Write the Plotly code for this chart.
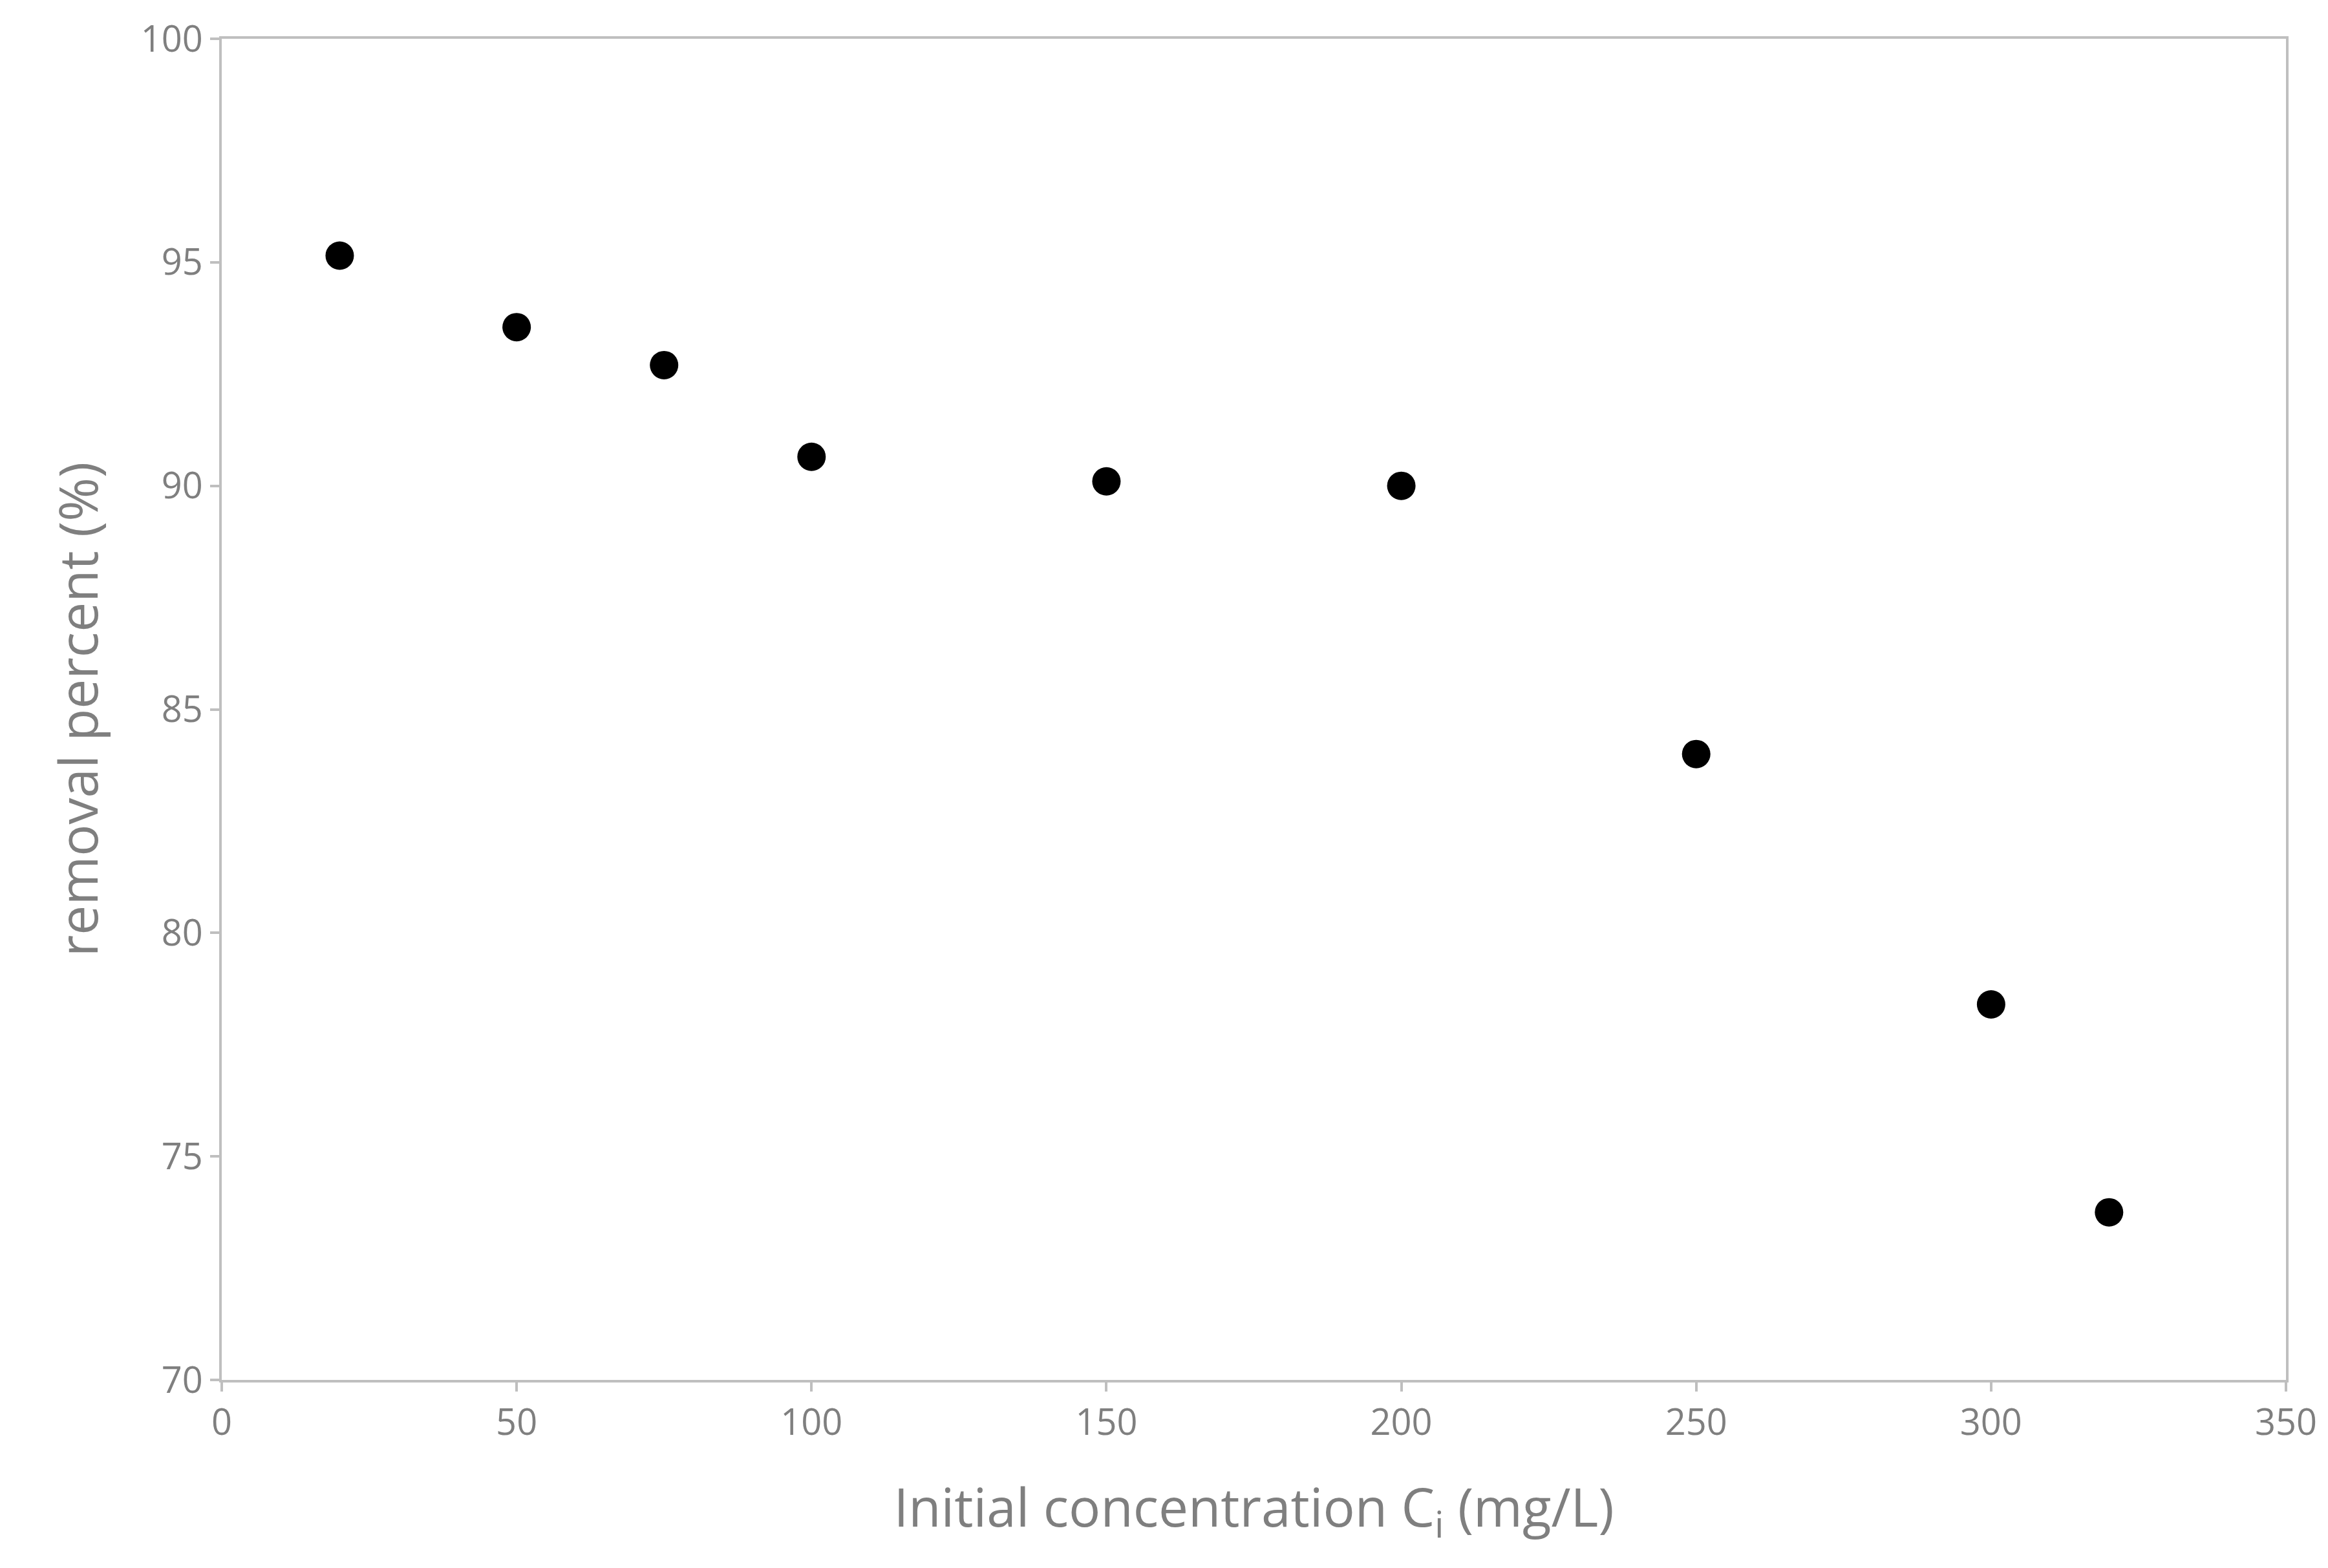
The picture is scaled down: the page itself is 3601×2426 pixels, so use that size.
import plotly.graph_objects as go

conc = [20, 50, 75, 100, 150, 200, 250, 300, 320]
removal = [95.15, 93.55, 92.7, 90.65, 90.1, 90.0, 84.0, 78.4, 73.75]

fig = go.Figure(go.Scatter(x=conc, y=removal, mode="markers",
                           marker=dict(color="black", size=44)))
ax = dict(showline=True, linecolor="#bfbfbf", linewidth=4, mirror=True,
          showgrid=False, zeroline=False, ticks="outside", ticklen=14,
          tickwidth=4, tickcolor="#bfbfbf",
          tickfont=dict(size=56, color="#7f7f7f", family="Open Sans"))
fig.update_xaxes(range=[0, 350], dtick=50,
                 title=dict(text="Initial concentration C<sub>i</sub> (mg/L)",
                            font=dict(size=82, color="#7f7f7f", family="Open Sans"), standoff=70), **ax)
fig.update_yaxes(range=[70, 100], dtick=5,
                 title=dict(text="removal percent (%)",
                            font=dict(size=82, color="#7f7f7f", family="Open Sans"), standoff=40), **ax)
fig.update_layout(width=3601, height=2426, plot_bgcolor="white", paper_bgcolor="white",
                  margin=dict(l=335, r=73, t=46, b=299), showlegend=False)
fig.write_html("out.html")
